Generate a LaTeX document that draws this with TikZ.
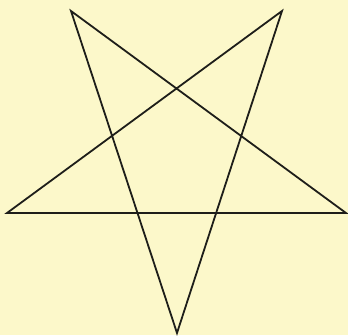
\documentclass[tikz,border=0pt]{standalone}
\usepackage{tikz}
\usepackage{xcolor}
\definecolor{PaperYellow}{HTML}{FCF8CA}
\definecolor{InkBlack}{HTML}{1E1E1A}

\begin{document}
\begin{tikzpicture}[x=1pt,y=-1pt]
  \fill[PaperYellow] (0,0) rectangle (348,335);
  \useasboundingbox (0,0) rectangle (348,335);
  \coordinate (pl) at (7,213);
  \coordinate (pr) at (346,213);
  \coordinate (ptl) at (71,11);
  \coordinate (ptr) at (282,11);
  \coordinate (pb) at (177,333);
  \draw[InkBlack,line width=1.8pt,line join=miter] (pl)--(pr)--(ptl)--(pb)--(ptr)--cycle;
\end{tikzpicture}
\end{document}
